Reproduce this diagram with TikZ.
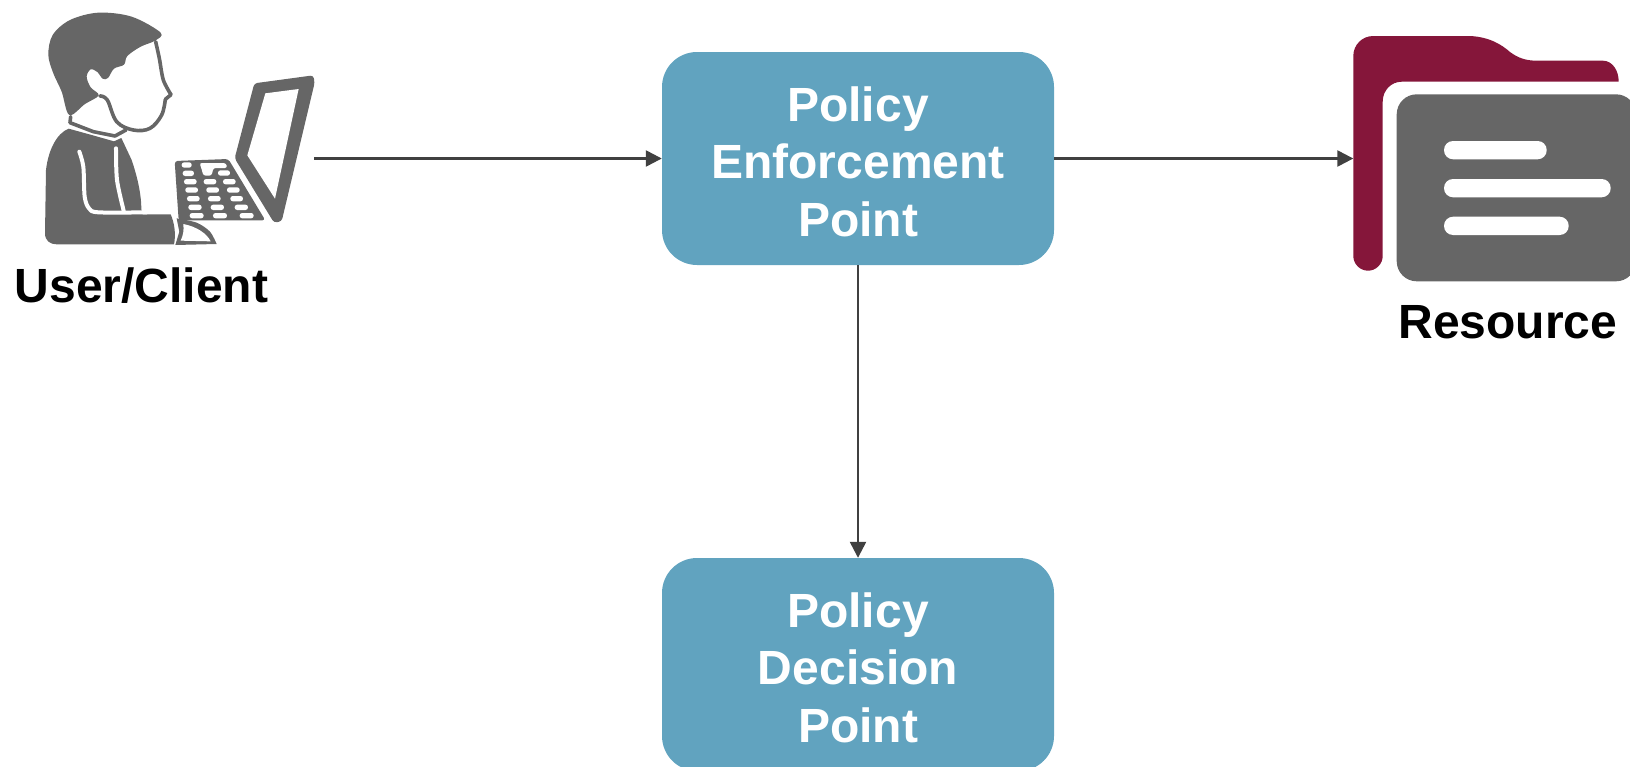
\documentclass[tikz,border=0pt]{standalone}
\usepackage{fontspec}
\setmainfont{Liberation Sans}
\usetikzlibrary{arrows.meta}
\definecolor{boxblue}{HTML}{61A3BF}
\definecolor{foldred}{HTML}{85163A}
\definecolor{icongray}{HTML}{666666}
\definecolor{linegray}{HTML}{404040}
\tikzset{
  policybox/.style={fill=boxblue,draw=none,rounded corners=35pt,minimum width=392pt,minimum height=213pt,inner sep=0pt,
    align=center,text=white,font=\fontsize{48}{57.5}\selectfont\bfseries},
  iconlabel/.style={inner sep=0pt,text=black,anchor=base,font=\fontsize{48}{57.5}\selectfont\bfseries},
  link/.style={draw=linegray,line width=2.4pt,-{Triangle[length=16pt,width=16pt]}},
  gfill/.style={fill=icongray,draw=none},
  wfill/.style={fill=white,draw=none},
  wline/.style={draw=white,line width=4pt,line cap=round,line join=round},
  gline/.style={draw=icongray,line width=3.6pt,line cap=round,line join=round},
  keycap/.style={fill=white,draw=none,rounded corners=2.5pt},
  bar/.style={fill=white,draw=none,rounded corners=9pt},
}
\newcommand{\toplift}{\rule{0pt}{40.5pt}}
\begin{document}
\begin{tikzpicture}[x=1pt,y=-1pt]
\path[use as bounding box] (0,0) rectangle (1630,766);
\clip (0,0) rectangle (1630,766);
% User icon (coordinates are those of a 3x crop at offset 20,0)
\begin{scope}[shift={(20,0)},x=0.33333pt,y=-0.33333pt]
  % hair
  \path[gfill] plot[smooth cycle,tension=0.55] coordinates {(422,98) (335,50) (235,38) (150,60) (98,105) (85,165) (100,220) (125,275) (148,345) (195,312) (236,286) (212,262) (200,230) (212,208) (232,216) (248,236) (264,234) (282,206) (312,194) (322,168) (362,140) (405,122)};
  % face line
  \draw[gline] plot[smooth,tension=0.5] coordinates {(407,125) (418,175) (430,240) (453,284)};
  \draw[gline] (453,284) -- (436,298);
  \draw[gline] plot[smooth,tension=0.6] coordinates {(436,298) (425,345) (390,385) (340,390) (290,365) (262,300) (240,288)};
  % collar line
  \draw[gline] (152,350) -- (150,368) -- (220,395) -- (285,408) -- (318,390);
  % torso
  \path[gfill] (146,386) .. controls (110,400) and (85,450) .. (78,510) -- (75,700) .. controls (75,722) and (90,733) .. (110,733) -- (462,733) .. controls (468,705) and (464,670) .. (452,643) -- (368,643) -- (364,628) .. controls (364,570) and (345,510) .. (335,480) -- (304,414) -- (282,424) -- (215,405) -- cycle;
  % jacket lines
  \draw[wline] plot[smooth,tension=0.5] coordinates {(178,455) (190,500) (194,590) (207,625) (235,637) (380,637)};
  \draw[wline] plot[smooth,tension=0.5] coordinates {(288,445) (291,540) (311,632)};
  % laptop screen
  \path[gfill,rounded corners=3pt] (703,250) -- (880,226) -- (884,248) -- (785,664) -- (762,668) -- (644,475) -- cycle;
  \path[wfill] (736,280) -- (836,267) -- (765,596) -- (682,466) -- cycle;
  % keyboard
  \path[gfill,rounded corners=3pt] (464,483) -- (625,477) -- (736,661) -- (476,661) -- cycle;
  \foreach \kx/\ky/\kw in {500/495/30, 505/520/34, 612/519/36, 511/545/38, 570/545/38, 628/545/38, 515/570/38, 578/570/38, 640/570/38, 520/596/38, 583/596/38, 650/596/38, 525/622/40, 592/622/40, 664/622/40, 530/647/42, 600/647/42, 680/647/42}{
    \path[keycap] (\kx-\kw/2,\ky-8) rectangle (\kx+\kw/2,\ky+8);
  }
  \path[keycap] (538,489) -- (618,489) -- (622,504) -- (580,504) -- (575,527) -- (550,527) -- (544,504) -- cycle;
  % hand / mouse
  \path[gfill] plot[smooth,tension=0.5] coordinates {(470,655) (530,668) (570,695) (590,732)} -- (466,735) -- (478,695) -- cycle;
  \path[wfill] (490,672) .. controls (530,680) and (560,700) .. (572,724) -- (482,722) .. controls (490,705) and (492,690) .. (490,672) -- cycle;
\end{scope}
% Resource icon
\path[fill=foldred] (1353.3,56) .. controls (1353.3,45) and (1362,36) .. (1373.3,36) -- (1470,36)
  .. controls (1490,37) and (1502,45) .. (1510,52)
  .. controls (1518,58) and (1526,60.7) .. (1537,60.7)
  -- (1603,60.7) .. controls (1612,60.7) and (1618.7,70) .. (1618.7,81.7)
  -- (1401.7,81.7) .. controls (1391,81.7) and (1382.7,90.5) .. (1382.7,101.7)
  -- (1382.7,256) .. controls (1382.7,264) and (1376,270.7) .. (1368,270.7)
  .. controls (1360,270.7) and (1353.3,264) .. (1353.3,256) -- cycle;
\path[gfill,rounded corners=20pt] (1396.7,94.3) rectangle (1636,281.3);
\path[bar] (1444,141) rectangle (1546.7,159.3);
\path[bar] (1444,179) rectangle (1610.7,197.3);
\path[bar] (1444,216.7) rectangle (1568.7,235);
% Nodes
\node[policybox] (pep) at (858,158.5) {\toplift Policy\\Enforcement\\Point};
\node[policybox] (pdp) at (858,664.5) {\toplift Policy\\Decision\\Point};
\node[iconlabel] (userlabel) at (141.5,302) {User/Client};
\node[iconlabel] (resourcelabel) at (1508,338) {Resource};
\coordinate (userport) at (314,158.5);
\coordinate (resourceport) at (1353.3,158.5);
% Connectors
\draw[link] (userport) -- (pep);
\draw[link] (pep) -- (resourceport);
\draw[link] (pep) -- (pdp);
\end{tikzpicture}
\end{document}
